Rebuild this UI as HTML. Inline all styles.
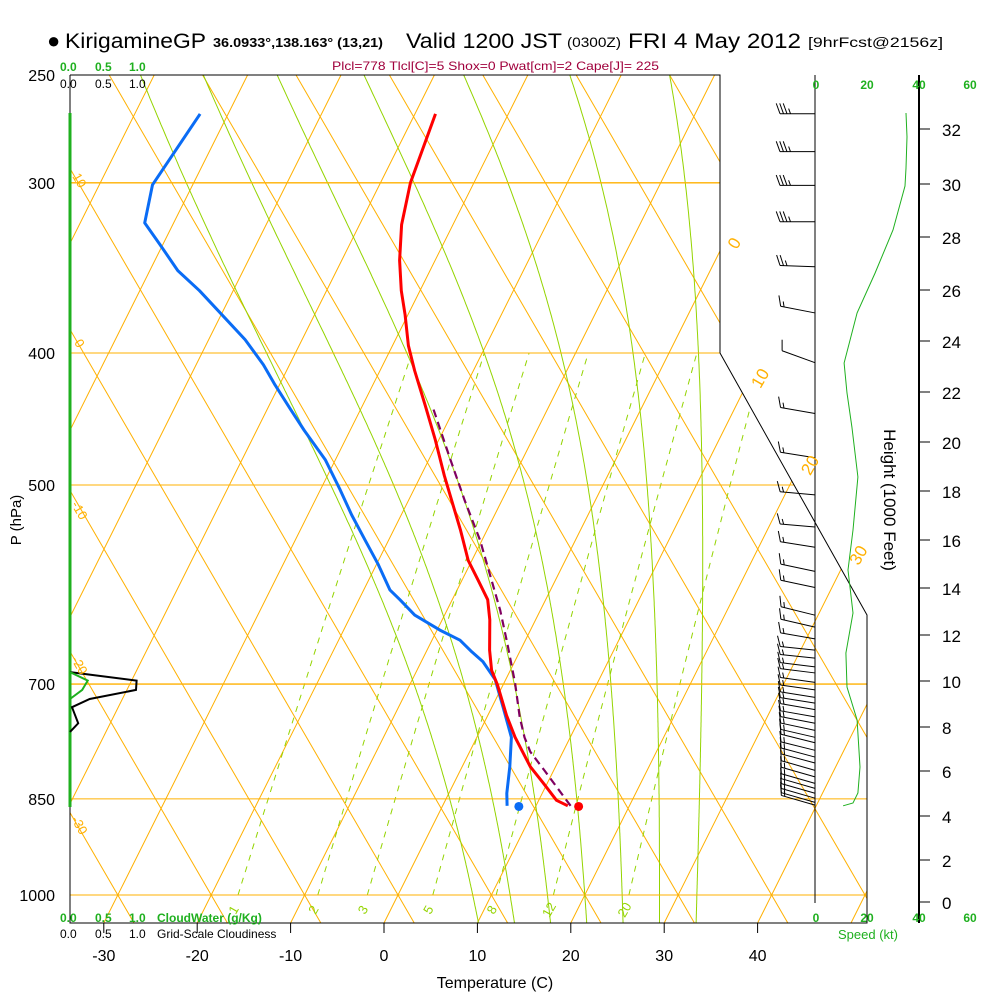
<!DOCTYPE html>
<html><head><meta charset="utf-8"><title>Skew-T KirigamineGP</title>
<style>
html,body{margin:0;padding:0;background:#fff;}
svg{display:block;font-family:"Liberation Sans",Arial,sans-serif;}
</style></head>
<body>
<svg id="chart" width="1000" height="1000" viewBox="0 0 1000 1000" xmlns="http://www.w3.org/2000/svg">
<defs>
<clipPath id="plotclip"><polygon points="70,75 720,75 720,353 867,615 867,923 70,923"/></clipPath>
</defs>
<rect x="0" y="0" width="1000" height="1000" fill="#fff"/>
<g id="bg" clip-path="url(#plotclip)"></g>
<g id="frame" stroke="#000" fill="none" stroke-width="1">
<polyline points="70,75 720,75 720,353 867,615 867,923 70,923 70,75"/>
<line x1="815" y1="75" x2="815" y2="903"/>
<line x1="919" y1="75" x2="919" y2="923" stroke-width="2"/>
</g>
<g id="marks"></g>
<g id="labels" font-size="16" fill="#000">
<text x="47" y="48" font-size="22">●</text>
<text x="65" y="48" font-size="21" textLength="141" lengthAdjust="spacingAndGlyphs">KirigamineGP</text>
<text x="213" y="47" font-size="13" font-weight="bold" textLength="170" lengthAdjust="spacingAndGlyphs">36.0933°,138.163° (13,21)</text>
<text x="406" y="48" font-size="21" textLength="156" lengthAdjust="spacingAndGlyphs">Valid 1200 JST</text>
<text x="567" y="47" font-size="14" textLength="54" lengthAdjust="spacingAndGlyphs">(0300Z)</text>
<text x="628" y="48" font-size="21" textLength="173" lengthAdjust="spacingAndGlyphs">FRI 4 May 2012</text>
<text x="808" y="47" font-size="14" textLength="135" lengthAdjust="spacingAndGlyphs">[9hrFcst@2156z]</text>
<text x="332" y="70" font-size="12" fill="#a0003c" textLength="327" lengthAdjust="spacingAndGlyphs">Plcl=778 Tlcl[C]=5 Shox=0 Pwat[cm]=2 Cape[J]= 225</text>
<g fill="#1fb01f" font-size="12" font-weight="bold">
<text x="60" y="71">0.0</text><text x="95" y="71">0.5</text><text x="129" y="71">1.0</text></g>
<g fill="#000" font-size="12">
<text x="60" y="88">0.0</text><text x="95" y="88">0.5</text><text x="129" y="88">1.0</text></g>
<g fill="#1fb01f" font-size="12" font-weight="bold">
<text x="60" y="922">0.0</text><text x="95" y="922">0.5</text><text x="129" y="922">1.0</text><text x="157" y="922">CloudWater (g/Kg)</text></g>
<g fill="#000" font-size="12">
<text x="60" y="938">0.0</text><text x="95" y="938">0.5</text><text x="129" y="938">1.0</text><text x="157" y="938">Grid-Scale Cloudiness</text></g>
<g fill="#1fb01f" font-size="12" font-weight="bold" text-anchor="middle">
<text x="816" y="89">0</text><text x="867" y="89">20</text><text x="919" y="89">40</text><text x="970" y="89">60</text></g>
<g fill="#1fb01f" font-size="12" font-weight="bold" text-anchor="middle">
<text x="816" y="922">0</text><text x="867" y="922">20</text><text x="919" y="922">40</text><text x="970" y="922">60</text></g>
<text x="838" y="939" font-size="13" fill="#1fb01f">Speed (kt)</text>
<text x="495" y="988" font-size="16" text-anchor="middle">Temperature (C)</text>
<text transform="translate(21,520) rotate(-90)" font-size="15" text-anchor="middle">P (hPa)</text>
<text transform="translate(884,500) rotate(90)" font-size="17" text-anchor="middle">Height (1000 Feet)</text>
</g>
<script>
// ---------- data ----------
const pressureTicks = [250, 300, 400, 500, 700, 850, 1000];
const tempTicks = [-30, -20, -10, 0, 10, 20, 30, 40];
const heightTicks = [0, 2, 4, 6, 8, 10, 12, 14, 16, 18, 20, 22, 24, 26, 28, 30, 32];
const heightTickY = [902, 860, 816, 771, 727, 681, 635, 588, 540, 491, 442, 392, 341, 290, 237, 184, 129];
const mixRatios = [1, 2, 3, 5, 8, 12, 20];
const thetaW = [8, 12, 16, 20, 24, 28, 32];

const tempP = [267, 300, 322, 342, 360, 375, 395, 412, 437, 463, 492, 513, 539, 568, 587, 607, 628, 661, 684, 701, 738, 766, 805, 827, 852, 860];
const tempT = [-37.8, -36.8, -35.5, -33.8, -32.0, -30.3, -28.3, -26.3, -23.3, -20.4, -17.5, -15.4, -12.9, -10.4, -8.3, -6.2, -4.9, -3.3, -2.0, -0.6, 2.0, 4.1, 7.3, 9.5, 11.9, 13.4];
const dewP = [267, 301, 321, 333, 348, 360, 375, 391, 408, 422, 440, 456, 479, 504, 526, 549, 572, 597, 607, 623, 639, 650, 663, 674, 695, 728, 766, 805, 842, 860];
const dewT = [-63.0, -64.3, -63.1, -60.3, -57.0, -53.6, -49.9, -46.1, -42.8, -40.5, -37.5, -34.9, -31.1, -27.9, -25.3, -22.5, -19.8, -17.2, -15.6, -13.2, -9.7, -7.0, -5.1, -3.4, -1.1, 1.2, 3.7, 5.1, 6.2, 6.9];
const parcelP = [860, 833, 810, 785, 766, 740, 699, 653, 618, 549, 513, 479, 440];
const parcelT = [13.7, 11.2, 9.0, 6.5, 5.1, 3.5, 1.2, -1.8, -4.3, -10.2, -14.0, -17.7, -22.2];
const sfcP = 861;
const sfcT = 14.6;
const sfcTd = 8.2;

const cloudP = [686, 696, 707, 718, 728, 748, 759];
const cloudFrac = [0, 0.98, 0.97, 0.29, 0.03, 0.12, 0];
const cwP = [686, 696, 707, 718];
const cwVal = [0, 0.26, 0.18, 0];

const speedP = [266.6, 277.6, 292.6, 301.6, 324.9, 349.4, 373.8, 406.8, 428, 453.3, 493.3, 539.5, 577.3, 620.8, 664.2, 703.5, 743.9, 805.4, 841.6, 856, 860];
const speedKt = [35, 35.4, 35, 34.6, 30, 23.1, 16.2, 11.2, 12.3, 14.2, 16.5, 14.6, 12.7, 14.6, 11.9, 12.3, 16.2, 17.3, 16.5, 14.6, 10.8];

const barbP = [266.9, 284.6, 301.3, 320.4, 345.7, 373.8, 406.6, 443.1, 477.5, 508.4, 536.8, 555.5, 578.6, 594.6, 623.1, 635.8, 648.6, 661, 670, 680, 687, 698, 707, 716, 723, 731, 740, 748, 757, 766, 773, 783, 792, 800, 810, 819, 828, 835, 842, 849, 855, 859];
const barbDir = [270, 270, 270, 270, 272, 281, 290, 280, 279, 275, 275, 279, 282, 282, 284, 283, 280, 276, 276, 277, 277, 278, 278, 279, 279, 280, 280, 281, 282, 283, 284, 284, 285, 285, 286, 286, 286, 286, 286, 286, 286, 286];
const barbKt = [35, 35, 35, 35, 25, 15, 10, 15, 15, 15, 15, 15, 15, 15, 15, 15, 15, 15, 15, 15, 15, 15, 15, 15, 15, 15, 15, 15, 15, 15, 15, 15, 15, 15, 15, 15, 15, 15, 15, 15, 15, 15];

// ---------- scales ----------
const PX_PER_LN = 591.5, Y1000 = 895, YBOT = 923, X0 = 384, PX_PER_C = 9.34, SKEW = 0.5, DRY_SLOPE = 0.58;
function yP(p){ return Y1000 - PX_PER_LN*Math.log(1000/p); }
function xT(T,p){ return X0 + PX_PER_C*T + SKEW*(YBOT - yP(p)); }
function pY(y){ return 1000*Math.exp(-(Y1000 - y)/PX_PER_LN); }
function xDry(th,y){ return xT(th,1000) - DRY_SLOPE*(Y1000 - y); }
function xSpeed(k){ return 815 + k*2.6; }
function xCloud(v){ return 70 + v*68; }

const NS = "http://www.w3.org/2000/svg";
function mk(tag, attrs, parent){
  const e = document.createElementNS(NS, tag);
  for (const k in attrs) e.setAttribute(k, attrs[k]);
  parent.appendChild(e);
  return e;
}
function pts(arr){ return arr.map(q => q[0].toFixed(1)+","+q[1].toFixed(1)).join(" "); }

const bg = document.getElementById("bg");
const marks = document.getElementById("marks");
const labels = document.getElementById("labels");
const ORANGE = "#ffb000", GREEN = "#94d400";

// dry adiabats (straight lines in this diagram)
for (let th = -50; th <= 150; th += 10){
  const el = mk("line", {x1:xDry(th,YBOT), y1:YBOT, x2:xDry(th,75), y2:75, stroke:ORANGE, "stroke-width":1}, bg);
  
  
}
// isotherms
for (let T = -120; T <= 60; T += 10){
  const el = mk("line", {x1:xT(T,pY(YBOT)), y1:YBOT, x2:xT(T,pY(75)), y2:75, stroke:ORANGE, "stroke-width":1}, bg);
  
  
}
// moist adiabats
function dTdp(T,p){
  const Tc = T-273.15;
  const es = 6.112*Math.exp(17.67*Tc/(Tc+243.5));
  const rs = 0.622*es/(p-es);
  const Rd=287.04, cp=1005.7, L=2.5e6, eps=0.622;
  return (Rd*T + L*rs)/(p*(cp + L*L*rs*eps/(Rd*T*T)));
}
thetaW.forEach(tw => {
  const up = [], down = [];
  let T = tw+273.15, p = 1000;
  up.push([xT(T-273.15,p), yP(p)]);
  while (p > 240){ const dp = -2; T += dTdp(T,p)*dp; p += dp; up.push([xT(T-273.15,p), yP(p)]); }
  T = tw+273.15; p = 1000;
  while (p < 1060){ const dp = 2; T += dTdp(T,p)*dp; p += dp; down.unshift([xT(T-273.15,p), yP(p)]); }
  const el = mk("polyline", {points: pts(down.concat(up)), fill:"none", stroke:GREEN, "stroke-width":1}, bg);
  
  
});
// mixing ratio lines
mixRatios.forEach(w => {
  const a = [];
  for (let p = 1000; p >= 400; p -= 10){
    const e = w*p/(622+w);
    const l = Math.log(e/6.112);
    const T = 243.5*l/(17.67-l);
    a.push([xT(T,p), yP(p)]);
  }
  const el = mk("polyline", {points: pts(a), fill:"none", stroke:GREEN, "stroke-width":1, "stroke-dasharray":"6,6"}, bg);
  
  
  const lx = a[0][0]-4;
  const t = mk("text", {x:lx, y:914, "font-size":13, fill:GREEN, "text-anchor":"middle", transform:"rotate(-60 "+lx+" 910)"}, labels);
  t.textContent = String(w);
  
  
});
// pressure lines
pressureTicks.forEach(p => {
  const y = yP(p);
  const el = mk("line", {x1:70, y1:y, x2:870, y2:y, stroke:ORANGE, "stroke-width":(p===300||p===700)?1.4:1}, bg);
  
  
  const t = mk("text", {x:55, y:y+6, "font-size":16, "text-anchor":"end"}, labels);
  t.textContent = String(p);
  
  
});
// isotherm labels right
[[0,243],[10,378],[20,465],[30,555]].forEach(q => {
  const x = xT(q[0], pY(q[1])) + 10;
  const t = mk("text", {x:x, y:q[1]+6, "font-size":17, fill:ORANGE, "text-anchor":"middle", transform:"rotate(-60 "+x+" "+q[1]+")"}, labels);
  t.textContent = String(q[0]);
  
  
});
// dry adiabat labels left
[[10,180],[0,343],[-10,510],[-20,665],[-30,825]].forEach(q => {
  const t = mk("text", {x:80, y:q[1]+5, "font-size":13, fill:ORANGE, "text-anchor":"middle", transform:"rotate(60 80 "+q[1]+")"}, labels);
  t.textContent = String(q[0]);
  
  
});
// temperature ticks
tempTicks.forEach(T => {
  const x = xT(T, pY(YBOT));
  const l = mk("line", {x1:x, y1:YBOT, x2:x, y2:933, stroke:"#000"}, marks);
  
  
  const t = mk("text", {x:x, y:961, "font-size":16, "text-anchor":"middle"}, labels);
  t.textContent = String(T);
  
  
});
// height ticks
heightTicks.forEach((h,i) => {
  const y = heightTickY[i];
  const l = mk("line", {x1:919, y1:y, x2:930, y2:y, stroke:"#000"}, marks);
  
  
  const t = mk("text", {x:942, y:y+7, "font-size":17}, labels);
  t.textContent = String(h);
  
  
});
// cloud profiles
{
  const gl = mk("line", {x1:70, y1:113, x2:70, y2:807, stroke:"#1fb01f", "stroke-width":3}, marks);
  
  
  const c = mk("polyline", {points: pts(cloudP.map((p,i)=>[xCloud(cloudFrac[i]), yP(p)])), fill:"none", stroke:"#000", "stroke-width":2}, marks);
  
  
  const w = mk("polyline", {points: pts(cwP.map((p,i)=>[xCloud(cwVal[i]), yP(p)])), fill:"none", stroke:"#1fb01f", "stroke-width":2}, marks);
  
  
}
// speed profile
{
  const s = mk("polyline", {points: pts(speedP.map((p,i)=>[xSpeed(speedKt[i]), yP(p)])), fill:"none", stroke:"#1fb01f", "stroke-width":1}, marks);
  
  
}
// wind barbs
barbP.forEach((p,i) => {
  const y = yP(p), x = 815, L = 35;
  const d = barbDir[i]*Math.PI/180;
  const ux = Math.sin(d), uy = -Math.cos(d);
  const ex = x + ux*L, ey = y + uy*L;
  const g = mk("g", {stroke:"#000", "stroke-width":1, fill:"none"}, marks);
  
  
  mk("line", {x1:x, y1:y, x2:ex, y2:ey}, g);
  const a = 70*Math.PI/180;
  const bx = ux*Math.cos(a) - uy*Math.sin(a), by = ux*Math.sin(a) + uy*Math.cos(a);
  let kt = barbKt[i], pos = 0;
  while (kt >= 10){
    const sx = ex - ux*pos, sy = ey - uy*pos;
    mk("line", {x1:sx, y1:sy, x2:sx + bx*11, y2:sy + by*11}, g);
    kt -= 10; pos += 3.5;
  }
  if (kt >= 5){
    const sx = ex - ux*pos, sy = ey - uy*pos;
    mk("line", {x1:sx, y1:sy, x2:sx + bx*5.5, y2:sy + by*5.5}, g);
  }
});
// temperature, dewpoint, parcel
{
  const par = mk("polyline", {points: pts(parcelP.map((p,i)=>[xT(parcelT[i],p), yP(p)])), fill:"none", stroke:"#800060", "stroke-width":2.2, "stroke-dasharray":"8,5"}, marks);
  
  
  const dw = mk("polyline", {points: pts(dewP.map((p,i)=>[xT(dewT[i],p), yP(p)])), fill:"none", stroke:"#0a6cf5", "stroke-width":3, "stroke-linejoin":"round"}, marks);
  
  
  const tp = mk("polyline", {points: pts(tempP.map((p,i)=>[xT(tempT[i],p), yP(p)])), fill:"none", stroke:"#ff0000", "stroke-width":3, "stroke-linejoin":"round"}, marks);
  
  
  const sd = mk("circle", {cx:xT(sfcTd,sfcP), cy:yP(sfcP), r:4.5, fill:"#0a6cf5"}, marks);
  
  
  const st = mk("circle", {cx:xT(sfcT,sfcP), cy:yP(sfcP), r:4.5, fill:"#ff0000"}, marks);
  
  
}
</script>
</svg>
</body></html>
